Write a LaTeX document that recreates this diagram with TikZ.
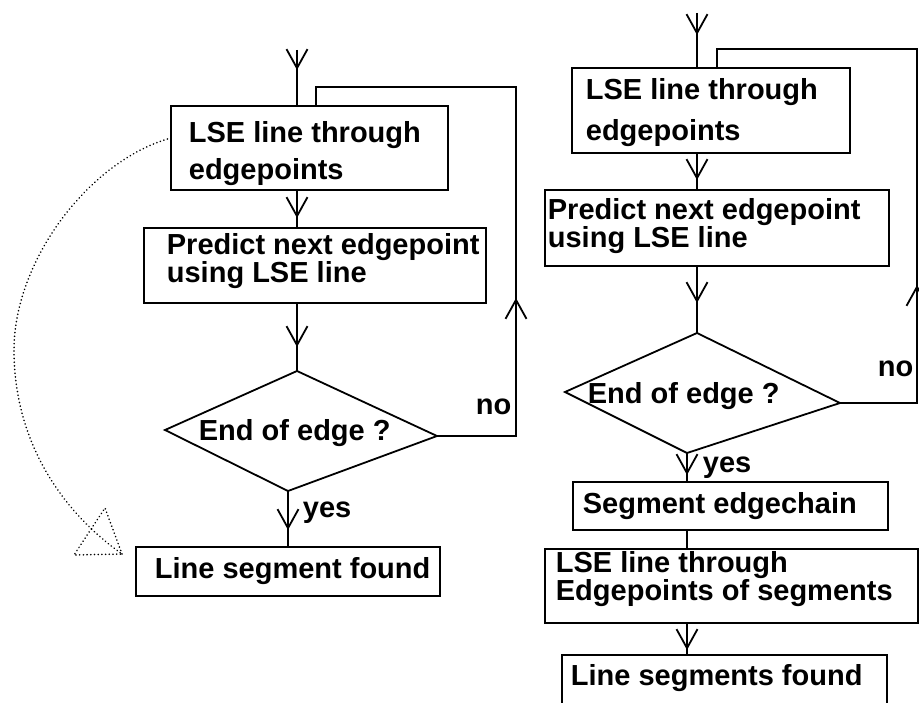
\documentclass[tikz,border=0pt]{standalone}
\usepackage{fontspec}
\setmainfont{Liberation Sans}
\usetikzlibrary{arrows.meta,decorations.markings}
\begin{document}
\begin{tikzpicture}[x=1pt,y=-1pt,
  line width=1.8pt,
  box/.style={draw, anchor=north west, inner sep=0pt, outer sep=0pt},
  txt/.style={anchor=base west, inner sep=0pt, font=\fontsize{29}{29}\selectfont\bfseries},
  vat/.style={postaction={decorate, decoration={markings,
      mark=at position #1 with {\arrow{Straight Barb[length=19pt,width=21pt,line width=1.8pt]}}}}},
  dots/.style={line width=1.7pt, line cap=round, dash pattern=on 0.1pt off 3.6pt},
]
\clip (0,0) rectangle (919,703);
\useasboundingbox (0,0) rectangle (919,703);

% ---------------- left chart ----------------
\node[box, minimum width=277pt, minimum height=84pt] (L1) at (171,106) {};
\node[txt] (L1a) at (188,143) {LSE line through};
\node[txt] (L1b) at (188,180) {edgepoints};

\node[box, minimum width=342pt, minimum height=75pt] (L2) at (144,228) {};
\node[txt] (L2a) at (166,255) {Predict next edgepoint};
\node[txt] (L2b) at (166,283) {using LSE line};

\coordinate (dLt) at (297,371);
\coordinate (dLl) at (165,430);
\coordinate (dLr) at (437,436);
\coordinate (dLb) at (288,491);
\draw (dLt) -- (dLr) -- (dLb) -- (dLl) -- cycle;
\node[txt] (dLtx) at (198,440) {End of edge ?};

\node[box, minimum width=304pt, minimum height=49pt] (L3) at (136,547) {};
\node[txt] (L3a) at (154,578) {Line segment found};

\node[txt] (Lno) at (475,415) {no};
\node[txt] (Lyes) at (302,517) {yes};

\coordinate (Ltop) at (297,50);
\coordinate (Lloop) at (516,87);
\coordinate (Lret) at (316,87);
\draw[vat=20pt] (Ltop) -- (Ltop |- L1.north);
\draw[vat=28pt] (L1.south -| Ltop) -- (L2.north -| Ltop);
\draw[vat=44pt] (L2.south -| Ltop) -- (dLt);
\draw[vat=39pt] (dLb) -- (dLb |- L3.north);
\draw[vat=217pt] (dLr) -| (Lloop) -- (Lret) -- (Lret |- L1.north);

% dotted curve with hollow triangle head
\coordinate (dtip) at (122,554);
\draw[dots] ([yshift=10pt]L1.west) .. controls (90,160) and (14,260) .. (14,350)
   .. controls (14,440) and (60,510) .. (dtip);
\draw[dots] (dtip) -- (105,508) -- (74,555) -- cycle;

% ---------------- right chart ----------------
\node[box, minimum width=278pt, minimum height=85pt] (R1) at (572,68) {};
\node[txt] (R1a) at (585,100) {LSE line through};
\node[txt] (R1b) at (585,141) {edgepoints};

\node[box, minimum width=344pt, minimum height=76pt] (R2) at (545,190) {};
\node[txt] (R2a) at (547,220) {Predict next edgepoint};
\node[txt] (R2b) at (547,248) {using LSE line};

\coordinate (dRt) at (697,333);
\coordinate (dRl) at (565,392);
\coordinate (dRr) at (840,403);
\coordinate (dRb) at (687,453);
\draw (dRt) -- (dRr) -- (dRb) -- (dRl) -- cycle;
\node[txt] (dRtx) at (587,403) {End of edge ?};

\node[box, minimum width=315pt, minimum height=48pt] (R3) at (573,482) {};
\node[txt] (R3a) at (582,513) {Segment edgechain};

\node[box, minimum width=373pt, minimum height=74pt] (R4) at (545,549) {};
\node[txt] (R4a) at (555,572) {LSE line through};
\node[txt] (R4b) at (555,600) {Edgepoints of segments};

\node[box, minimum width=325pt, minimum height=80pt] (R5) at (562,655) {};
\node[txt] (R5a) at (570,685) {Line segments found};

\node[txt] (Rno) at (877,377) {no};
\node[txt] (Ryes) at (702,472) {yes};

\coordinate (Rtop) at (697,13);
\coordinate (Rloop) at (917,49);
\coordinate (Rret) at (717,49);
\draw[vat=22pt] (Rtop) -- (Rtop |- R1.north);
\draw[vat=27pt] (R1.south -| Rtop) -- (R2.north -| Rtop);
\draw[vat=37pt] (R2.south -| Rtop) -- (dRt);
\draw[vat=22pt] (dRb) -- (dRb |- R3.north);
\draw (R3.south -| dRb) -- (R4.north -| dRb);
\draw[vat=27pt] (R4.south -| dRb) -- (R5.north -| dRb);
\draw[vat=195pt] (dRr) -| (Rloop) -- (Rret) -- (Rret |- R1.north);
\end{tikzpicture}
\end{document}
